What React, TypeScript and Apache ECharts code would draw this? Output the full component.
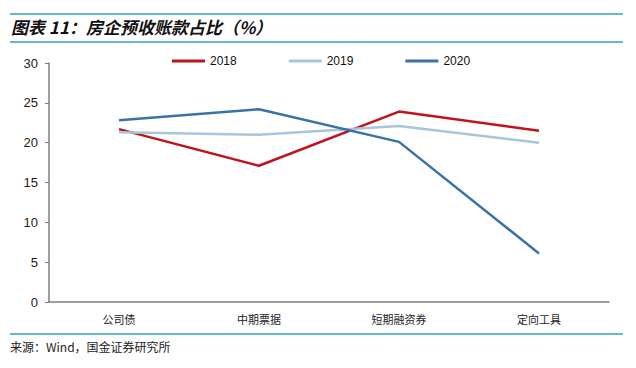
import React, { useEffect, useRef } from "react";
import * as echarts from "echarts";

const categories = ["公司债", "中期票据", "短期融资券", "定向工具"];
const s2018 = [21.7, 17.1, 23.9, 21.5];
const s2019 = [21.3, 21.0, 22.1, 20.0];
const s2020 = [22.8, 24.2, 20.1, 6.1];
const yTicks = { min: 0, max: 30, interval: 5 };

export default function App() {
  const ref = useRef<HTMLDivElement>(null);
  useEffect(() => {
    const chart = echarts.init(ref.current!, undefined, { renderer: "svg" });
    const teal = "#2fa3bd";
    const mk = (name: string, data: number[], color: string) => ({
      name,
      type: "line",
      data,
      symbol: "none",
      lineStyle: { color, width: 2.5 },
      itemStyle: { color },
    });
    chart.setOption({
      animation: false,
      backgroundColor: "#ffffff",
      grid: { left: 49, right: 27, top: 63, bottom: 66 },
      legend: {
        top: 50,
        left: 167,
        itemWidth: 33,
        itemHeight: 3,
        itemGap: 52,
        icon: "rect",
        textStyle: { fontFamily: "Liberation Sans, Arial", fontSize: 12, color: "#111" },
        data: ["2018", "2019", "2020"],
      },
      xAxis: {
        type: "category",
        data: categories,
        boundaryGap: true,
        axisLine: { lineStyle: { color: "#7f7f7f", width: 1.5 } },
        axisTick: { inside: true, length: 3, lineStyle: { color: "#7f7f7f" } },
        axisLabel: {
          margin: 11,
          fontSize: 11,
          color: "#222",
          fontFamily: "Noto Sans CJK SC",
        },
      },
      yAxis: {
        type: "value",
        min: yTicks.min,
        max: yTicks.max,
        interval: yTicks.interval,
        splitLine: { show: false },
        axisLine: { show: true, lineStyle: { color: "#7f7f7f", width: 1.5 } },
        axisTick: { show: true, length: 4, lineStyle: { color: "#7f7f7f" } },
        axisLabel: {
          margin: 11,
          fontSize: 13,
          color: "#222",
          fontFamily: "Liberation Sans, Arial",
        },
      },
      series: [
        mk("2018", s2018, "#c0141c"),
        mk("2019", s2019, "#a9c5dc"),
        mk("2020", s2020, "#3a72a8"),
      ],
      graphic: [
        { type: "line", shape: { x1: 10, y1: 14, x2: 623, y2: 14 }, style: { stroke: teal, lineWidth: 1.5 } },
        { type: "line", shape: { x1: 10, y1: 42, x2: 623, y2: 42 }, style: { stroke: teal, lineWidth: 1.5 } },
        { type: "line", shape: { x1: 10, y1: 334, x2: 623, y2: 334 }, style: { stroke: teal, lineWidth: 1.5 } },
        {
          type: "text",
          left: 11,
          top: 18,
          style: {
            text: "图表 11：房企预收账款占比（%）",
            font: "italic bold 17px 'Noto Sans CJK SC'",
            fill: "#111",
          },
        },
        {
          type: "text",
          left: 10,
          top: 340,
          style: {
            text: "来源：Wind，国金证券研究所",
            font: "12px 'Noto Sans CJK SC'",
            fill: "#222",
          },
        },
      ],
    });
    return () => chart.dispose();
  }, []);
  return (
    <div
      ref={ref}
      style={{ position: "fixed", left: 0, top: 0, width: 636, height: 368 }}
    />
  );
}
